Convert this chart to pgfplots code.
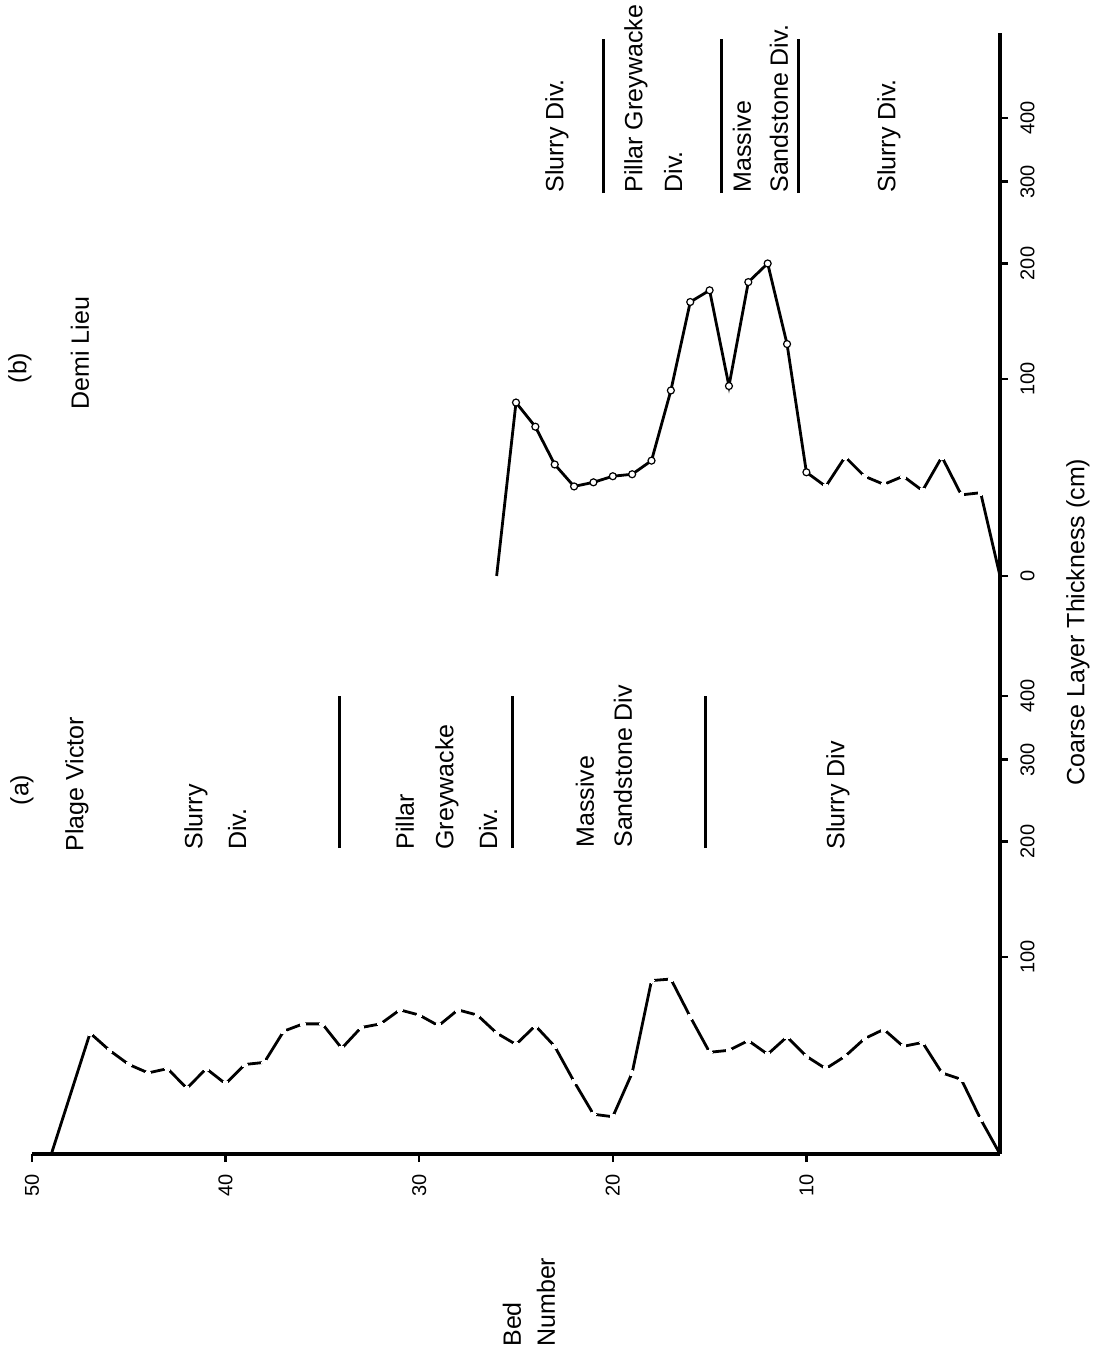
\documentclass[border=0pt]{standalone}
\usepackage{pgfplots}
\pgfplotsset{compat=1.18}
\usepackage{fontspec}
\setmainfont{Liberation Sans}
\newcommand{\lab}{\fontsize{12.5}{15}\selectfont}
\newcommand{\tck}{\fontsize{10}{12}\selectfont}
\pgfplotsset{
  bedaxis/.style={
    scale only axis, width=484pt,
    xmin=0, xmax=50, x dir=reverse,
    y coord trafo/.code={\pgfmathparse{log10(##1+100)}},
    clip=false,
    axis line style={line width=2pt},
    tick align=outside,
    major tick length=4pt,
    major tick style={line width=1.2pt, black},
    /pgf/number format/assume math mode=true,
    tick label style={font=\tck},
    xticklabel style={rotate=90, anchor=east, inner sep=0pt},
    yticklabel style={rotate=90, anchor=north, inner sep=0pt},
    minor tick num=0,
  }
}
\pgfplotstableread{
bed t
0 0
1 13
2 30
3 33
4 48
5 46
6 55
7 50
8 41
9 35
10 41
11 51
12 42
13 49
14 44
15 43
16 62
17 85
18 84
19 33
20 14
21 15
22 29
23 46
24 57
25 47
26 53
27 63
28 66
29 57
30 63
31 66
32 58
33 56
34 45
35 58
36 58
37 54
38 38
39 37
40 28
41 35
42 26
43 35
44 33
45 37
46 44
47 53
49 0
}\plagevictor
\pgfplotstableread{
bed t
0 0
1 34
2 33
3 52
4 35
5 42
6 38
7 42
8 52
9 37
10 44
11 126
12 200
13 181
14 95
15 173
16 162
17 92
18 50
19 43
20 42
21 39
22 37
23 48
24 69
25 84
26 0
}\demilieu
\begin{document}
\begin{tikzpicture}[x=0.5pt,y=-0.5pt]
\useasboundingbox (0,0) rectangle (1094,1363);
\coordinate (Acen) at (516,865);
\coordinate (Bcen) at (516,304.5);
% ---------- Panel (a) Plage Victor ----------
\begin{axis}[bedaxis, at={(Acen)}, anchor=center, height=289pt,
  ymin=0, ymax=663,
  axis x line*=bottom, axis y line*=right,
  xtick={10,20,30,40,50},
  ytick={100,200,300,400}, yticklabels={100,200,300,400},
  xticklabel shift=6pt, yticklabel shift=6pt]
\addplot[black, line width=1.4pt, mark=*, mark size=1.3pt,
  mark options={fill=white, draw=white, line width=0pt},
  mark indices={2,3,4,5,6,7,8,9,10,11,12,13,14,15,16,17,18,19,20,21,22,23,24,25,26,27,28,29,30,31,32,33,34,35,36,37,38,39,40,41,42,43,44,45,46,47,48}]
  table[x=bed, y=t] {\plagevictor};
\draw[line width=1.4pt] (axis cs:34.1,193) -- (axis cs:34.1,400);
\draw[line width=1.4pt] (axis cs:25.2,193) -- (axis cs:25.2,400);
\draw[line width=1.4pt] (axis cs:15.2,193) -- (axis cs:15.2,400);
\end{axis}
% ---------- Panel (b) Demi Lieu ----------
\begin{axis}[bedaxis, at={(Bcen)}, anchor=center, height=271.5pt,
  ymin=0, ymax=574.5,
  axis x line=none, axis y line*=right,
  ytick={0,100,200,300,400}, yticklabels={0,100,200,300,400},
  yticklabel shift=6pt]
\addplot[black, line width=1.4pt, mark=*, mark size=1.3pt,
  mark options={fill=white, draw=white, line width=0pt},
  mark indices={2,3,4,5,6,7,8,9,10}]
  table[x=bed, y=t] {\demilieu};
\addplot[only marks, mark=*, mark size=1.75pt,
  mark options={fill=white, draw=black, line width=0.6pt},
  mark indices={11,12,13,14,15,16,17,18,19,20,21,22,23,24,25,26}]
  table[x=bed, y=t] {\demilieu};
\draw[line width=1.4pt] (axis cs:20.5,284) -- (axis cs:20.5,560);
\draw[line width=1.4pt] (axis cs:14.4,284) -- (axis cs:14.4,560);
\draw[line width=1.4pt] (axis cs:10.4,284) -- (axis cs:10.4,560);
\end{axis}
% ---------- Text ----------
\tikzset{lbl/.style={rotate=90, anchor=west, inner sep=0pt, font=\lab}}
\node[rotate=90, inner sep=0pt, font=\lab] at (22,790) {(a)};
\node[lbl] at (77,852) {Plage Victor};
\node[lbl] at (196,850) {Slurry};
\node[lbl] at (237,850) {Div.};
\node[lbl] at (405,850) {Pillar};
\node[lbl] at (447,850) {Greywacke};
\node[lbl] at (488,850) {Div.};
\node[lbl] at (585,848) {Massive};
\node[lbl] at (623,848) {Sandstone Div};
\node[lbl] at (838,850) {Slurry Div};
\node[rotate=90, inner sep=0pt, font=\lab] at (20,368) {(b)};
\node[rotate=90, inner sep=0pt, font=\lab] at (80,353) {Demi Lieu};
\node[lbl] at (557,193) {Slurry Div.};
\node[lbl] at (636,193) {Pillar Greywacke};
\node[lbl] at (673,193) {Div.};
\node[lbl] at (742,193) {Massive};
\node[lbl] at (779,193) {Sandstone Div.};
\node[lbl] at (889,193) {Slurry Div.};
\node[lbl] at (512,1347) {Bed};
\node[lbl] at (546,1347) {Number};
\node[rotate=90, inner sep=0pt, font=\lab] at (1078,622) {Coarse Layer Thickness (cm)};
\end{tikzpicture}
\end{document}
